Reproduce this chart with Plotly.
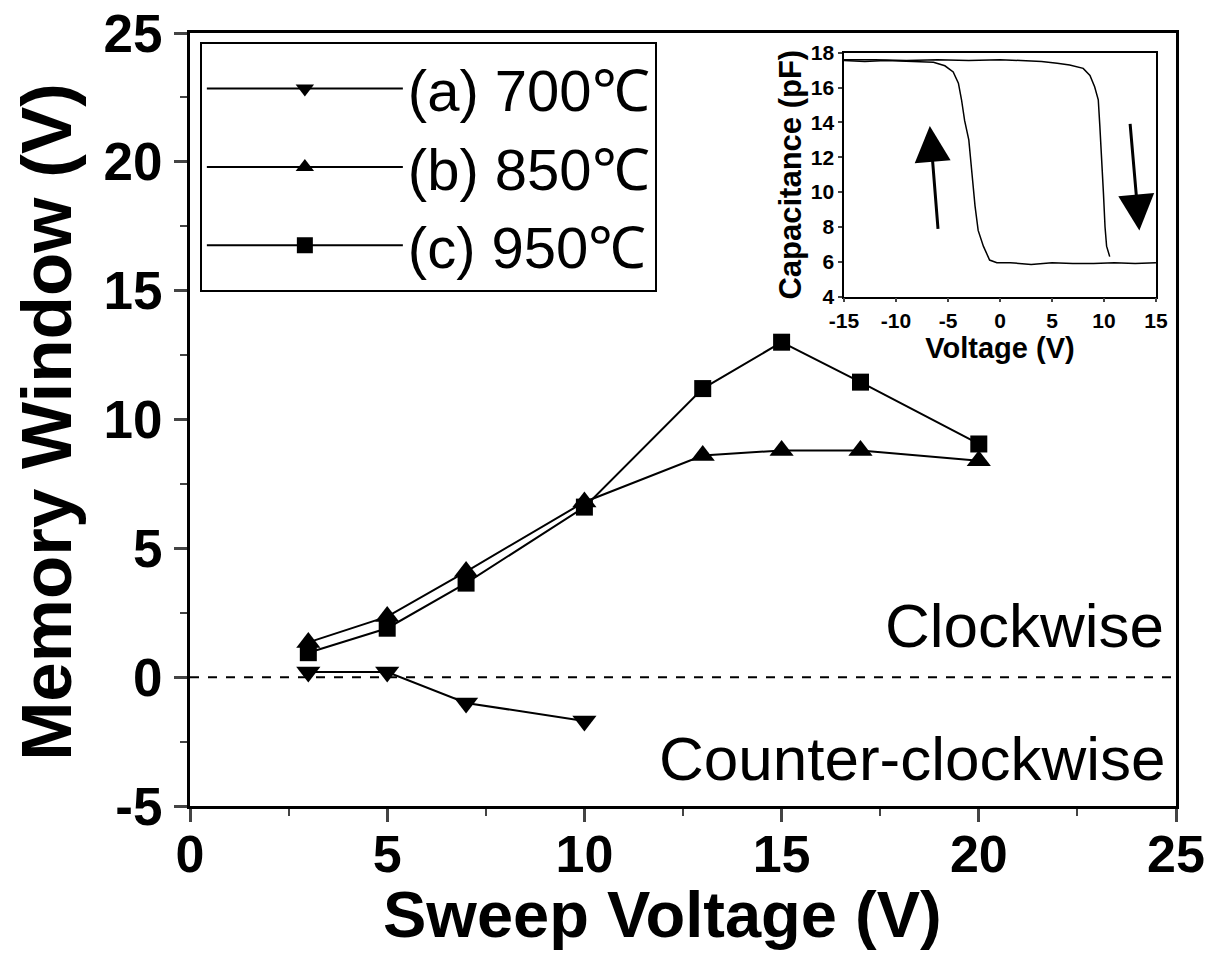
import plotly.graph_objects as go

# ---- main data: memory window vs sweep voltage ----
sweep_a = [3, 5, 7, 10]
mw_a = [0.2, 0.2, -1.0, -1.7]            # (a) 700 C
sweep_b = [3, 5, 7, 10, 13, 15, 17, 20]
mw_b = [1.35, 2.35, 4.1, 6.8, 8.6, 8.8, 8.8, 8.4]   # (b) 850 C
sweep_c = [3, 5, 7, 10, 13, 15, 17, 20]
mw_c = [0.95, 1.9, 3.65, 6.6, 11.2, 13.0, 11.45, 9.05]  # (c) 950 C

names = ["(a) 700℃", "(b) 850℃", "(c) 950℃"]
x_ticks = [0, 5, 10, 15, 20, 25]
y_ticks = [-5, 0, 5, 10, 15, 20, 25]

# ---- inset data: C-V hysteresis ----
v_left = [-15, -13, -11, -9, -7.5, -6.4, -5.3, -4.5, -4.0, -3.7, -3.4, -3.0, -2.7,
          -2.4, -2.1, -1.6, -1.0, -0.3, 1, 3, 5, 7, 9, 11, 13, 15]
c_left = [17.55, 17.5, 17.55, 17.5, 17.45, 17.45, 17.25, 16.9, 16.25, 15.3, 14.1,
          13.0, 11.1, 9.2, 7.8, 6.9, 6.1, 5.95, 5.95, 5.85, 5.95, 5.9, 5.9, 5.95, 5.9, 5.95]
v_right = [-15, -12, -9, -6, -3, 0, 2, 4, 5.5, 6.7, 8.0, 8.65, 9.1, 9.45, 9.6,
           9.8, 9.95, 10.1, 10.25, 10.55]
c_right = [17.6, 17.6, 17.55, 17.6, 17.55, 17.6, 17.55, 17.5, 17.4, 17.3, 17.1,
           16.7, 16.05, 15.3, 13.8, 11.8, 9.9, 8.0, 6.9, 6.3]
inset_xticks = [-15, -10, -5, 0, 5, 10, 15]
inset_yticks = [4, 6, 8, 10, 12, 14, 16, 18]

FONT = "Liberation Sans, Arial, sans-serif"

fig = go.Figure()

fig.add_trace(go.Scatter(x=sweep_a, y=mw_a, name=names[0], mode="lines+markers",
                         line=dict(color="black", width=2),
                         marker=dict(symbol="triangle-down", size=21, color="black")))
fig.add_trace(go.Scatter(x=sweep_b, y=mw_b, name=names[1], mode="lines+markers",
                         line=dict(color="black", width=2),
                         marker=dict(symbol="triangle-up", size=21, color="black")))
fig.add_trace(go.Scatter(x=sweep_c, y=mw_c, name=names[2], mode="lines+markers",
                         line=dict(color="black", width=2),
                         marker=dict(symbol="square", size=17, color="black")))

fig.add_trace(go.Scatter(x=v_left, y=c_left, mode="lines", showlegend=False,
                         line=dict(color="black", width=1.5), xaxis="x2", yaxis="y2"))
fig.add_trace(go.Scatter(x=v_right, y=c_right, mode="lines", showlegend=False,
                         line=dict(color="black", width=1.5), xaxis="x2", yaxis="y2"))

fig.add_shape(type="line", xref="paper", x0=0, x1=1, yref="y", y0=0, y1=0,
              line=dict(color="black", width=2, dash="dash"))

fig.update_layout(
    width=1217, height=953,
    margin=dict(l=190, r=41, t=33, b=147),
    plot_bgcolor="white", paper_bgcolor="white",
    font=dict(family=FONT, color="black"),
    xaxis=dict(range=[0, 25], tickvals=x_ticks, showticklabels=False,
               ticks="outside", ticklen=13, tickwidth=3, automargin=False,
               minor=dict(dtick=2.5, ticks="outside", ticklen=7, tickwidth=2),
               showline=True, linewidth=3, linecolor="black", mirror=True,
               showgrid=False, zeroline=False),
    # label-only companion axis so the tick labels sit where the reference has them
    xaxis3=dict(overlaying="x", matches="x", anchor="y", side="bottom",
                range=[0, 25], tickvals=x_ticks, ticktext=[str(v) for v in x_ticks],
                ticks="", showline=False, showgrid=False, zeroline=False,
                automargin=False, ticklabelstandoff=13, ticklabeloverflow="allow",
                tickfont=dict(size=52, family=FONT, weight="bold")),
    yaxis=dict(range=[-5, 25], tickvals=y_ticks, ticktext=[str(v) for v in y_ticks],
               ticks="outside", ticklen=13, tickwidth=3, automargin=False,
               minor=dict(dtick=2.5, ticks="outside", ticklen=7, tickwidth=2),
               showline=True, linewidth=3, linecolor="black", mirror=True,
               showgrid=False, zeroline=False, ticklabelstandoff=1,
               ticklabeloverflow="allow",
               tickfont=dict(size=53, family=FONT, weight="bold")),
    xaxis2=dict(domain=[0.6633, 0.9797], anchor="y2", range=[-15, 15],
                tickvals=inset_xticks, ticktext=[str(v) for v in inset_xticks],
                ticks="outside", ticklen=4, tickwidth=1.5,
                showline=True, linewidth=1.5, linecolor="black", mirror=True,
                showgrid=False, zeroline=False,
                tickfont=dict(size=21, weight="bold"),
                title=dict(text="<b>Voltage (V)</b>", font=dict(size=29), standoff=0)),
    yaxis2=dict(domain=[0.6589, 0.9745], anchor="x2", range=[4, 18],
                tickvals=inset_yticks, ticks="outside", ticklen=4, tickwidth=1.5,
                showline=True, linewidth=1.5, linecolor="black", mirror=True,
                showgrid=False, zeroline=False,
                tickfont=dict(size=21, weight="bold"),
                title=dict(text="<b>Capacitance (pF)</b>", font=dict(size=31), standoff=0)),
    legend=dict(x=0.01, y=0.988, xanchor="left", yanchor="top",
                bordercolor="black", borderwidth=2, bgcolor="white",
                font=dict(size=58, family=FONT), itemwidth=196,
                tracegroupgap=0),
    showlegend=True,
)

# an invisible trace keeps the label-only axis active
fig.add_trace(go.Scatter(x=[x_ticks[0], x_ticks[-1]], y=[y_ticks[0], y_ticks[0]],
                         xaxis="x3", yaxis="y", mode="markers", showlegend=False,
                         hoverinfo="skip", marker=dict(opacity=0)))

# axis titles
fig.add_annotation(text="<b>Sweep Voltage (V)</b>", xref="paper", yref="paper",
                   x=0.479, y=-0.14, xanchor="center", yanchor="middle",
                   showarrow=False, font=dict(size=65, family=FONT))
fig.add_annotation(text="<b>Memory Window (V)</b>", xref="paper", yref="paper",
                   x=-0.145, y=0.497, xanchor="center", yanchor="middle",
                   textangle=-90, showarrow=False, font=dict(size=71, family=FONT))

fig.add_annotation(text="Clockwise", x=24.75, y=2.0, xref="x", yref="y",
                   xanchor="right", yanchor="middle", showarrow=False,
                   font=dict(size=62, family=FONT))
fig.add_annotation(text="Counter-clockwise", x=24.8, y=-3.15, xref="x", yref="y",
                   xanchor="right", yanchor="middle", showarrow=False,
                   font=dict(size=62, family=FONT))

# inset arrows
fig.add_annotation(x=-6.75, y=13.8, ax=-5.95, ay=7.8, xref="x2", yref="y2",
                   axref="x2", ayref="y2", showarrow=True, arrowhead=2,
                   arrowsize=2.4, arrowwidth=3, arrowcolor="black", text="")
fig.add_annotation(x=13.4, y=7.8, ax=12.5, ay=14.0, xref="x2", yref="y2",
                   axref="x2", ayref="y2", showarrow=True, arrowhead=2,
                   arrowsize=2.4, arrowwidth=3, arrowcolor="black", text="")

fig.write_html("out.html", config={"displayModeBar": False},
               post_script="document.body.style.margin='0';document.body.style.padding='0';")
